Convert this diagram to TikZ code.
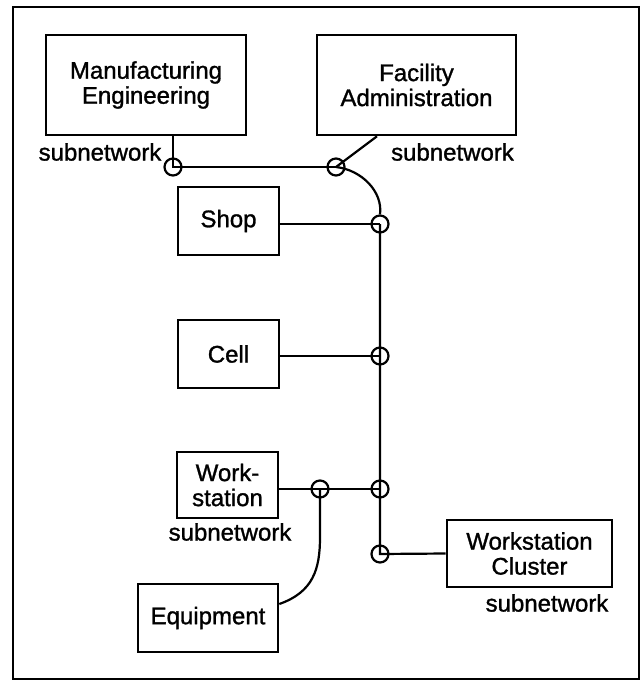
\documentclass[tikz,border=0pt]{standalone}
\usepackage{fontspec}
\setmainfont{Liberation Sans}[BoldFont=Liberation Sans,BoldFeatures={FakeBold=1.2}]
\usetikzlibrary{calc}
\begin{document}
\begin{tikzpicture}[x=1pt,y=-1pt,
  every node/.style={font=\fontsize{24}{25}\selectfont\bfseries},
  unit/.style={draw,line width=2.6pt,align=center,inner sep=0pt},
  link/.style={line width=2.2pt},
  tap/.style={draw,circle,line width=2.2pt,minimum size=17pt,inner sep=0pt},
  lbl/.style={inner sep=0pt}]
\useasboundingbox (0,0) rectangle (642,681);
% outer frame
\draw[line width=2.8pt] (13,7) rectangle (639,679);

% organisational units
\node[unit,minimum width=200pt,minimum height=100pt] (me) at (146,85) {Manufacturing\\Engineering};
\node[unit,minimum width=199pt,minimum height=100pt] (fa) at (416.5,85) {Facility\\Administration};
\node[unit,minimum width=101pt,minimum height=68pt] (shop) at (228.5,221) {Shop};
\node[unit,minimum width=101pt,minimum height=68pt] (cell) at (228.5,354) {Cell};
\node[unit,minimum width=101pt,minimum height=66pt] (work) at (227.5,485) {Work-\\station};
\node[unit,minimum width=140pt,minimum height=68pt] (equip) at (208,618) {Equipment};
\node[unit,minimum width=165pt,minimum height=67pt] (clus) at (529.5,553.5) {Workstation\\Cluster};

% subnetwork labels
\node[lbl] (l1) at (100,152) {subnetwork};
\node[lbl] (l2) at (452.5,152) {subnetwork};
\node[lbl] (l3) at (230,532) {subnetwork};
\node[lbl] (l4) at (547,603) {subnetwork};

% network taps
\node[tap] (j1) at (173,167) {};
\node[tap] (j2) at (336,167) {};
\node[tap] (j3) at (380,224) {};
\node[tap] (j4) at (380,356) {};
\node[tap] (jw) at (320,489) {};
\node[tap] (j5) at (380,489) {};
\node[tap] (j6) at (380,554) {};
\coordinate (fatap) at ([xshift=-39.5pt]fa.south);
\coordinate (eqtap) at ([yshift=14pt]equip.east);

% connectors
\draw[link] (j1 |- me.south) -- (j1.center) -- (j2.center);
\draw[link] (fatap) -- (j2.center);
\draw[link] (j2.center) .. controls (362,170) and (383,192) .. (j3.north);
\draw[link] (j3.center) -- (j6.center) -- (clus.west);
\draw[link] (shop.east |- j3) -- (j3.center);
\draw[link] (cell.east |- j4) -- (j4.center);
\draw[link] (work.east |- jw) -- (j5.center);
\draw[link] (eqtap) .. controls ($(eqtap)+(34,-12)$) and ($(jw)+(0,80)$) .. ($(jw)+(0,48)$) -- (jw.center);
\end{tikzpicture}
\end{document}
